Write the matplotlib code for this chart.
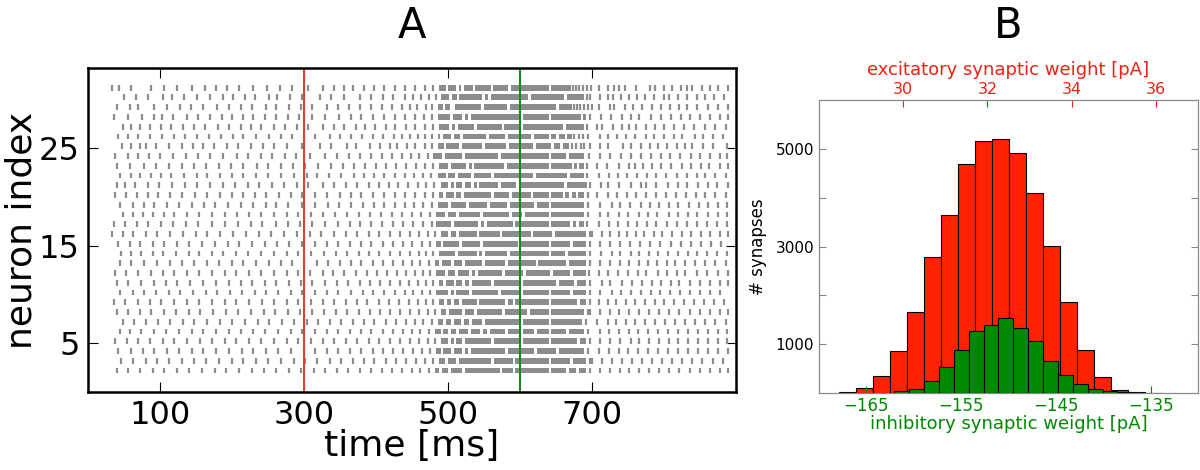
import matplotlib.pyplot as plt
import numpy as np

# Panel A: raster, neuron index 31 down to 2
neuron_ids = list(range(31, 1, -1))

# sparse spikes before the stimulus burst [ms]
pre_spikes = [
    [34, 43, 60, 88, 105, 124, 145, 162, 178, 193, 210, 230, 249, 267, 284, 306, 327, 342, 356, 369, 383, 397, 412, 426, 441, 454, 468, 479],
    [50, 67, 84, 104, 117, 133, 151, 170, 187, 201, 218, 232, 251, 263, 281, 298, 322, 338, 356, 378, 393, 410, 424, 440, 452, 463, 474, 484],
    [40, 58, 70, 92, 110, 128, 143, 160, 180, 196, 213, 228, 247, 262, 279, 296, 312, 332, 347, 363, 378, 393, 409, 423, 436, 448, 457, 470, 478],
    [36, 55, 75, 92, 103, 118, 138, 153, 170, 186, 200, 215, 229, 246, 262, 278, 293, 311, 330, 349, 366, 380, 396, 411, 426, 441, 455, 467, 478],
    [48, 60, 73, 86, 101, 116, 132, 148, 163, 181, 196, 213, 227, 240, 258, 274, 290, 306, 326, 342, 356, 372, 385, 399, 414, 427, 442, 455, 468, 479],
    [42, 55, 70, 86, 103, 120, 135, 152, 168, 185, 202, 216, 233, 251, 268, 284, 300, 316, 336, 350, 366, 381, 396, 410, 425, 437, 448, 458, 468, 478],
    [47, 60, 72, 80, 95, 112, 130, 146, 160, 175, 193, 209, 226, 243, 259, 277, 298, 322, 338, 360, 373, 392, 406, 420, 430, 443, 455, 468, 478],
    [38, 55, 70, 85, 100, 118, 136, 153, 169, 187, 207, 223, 240, 256, 274, 289, 308, 330, 346, 363, 378, 394, 408, 422, 437, 449, 460, 472],
    [41, 58, 78, 95, 113, 130, 147, 164, 182, 199, 216, 235, 250, 268, 285, 302, 320, 338, 354, 370, 385, 400, 414, 428, 442, 456, 468, 480],
    [45, 60, 72, 88, 102, 116, 133, 151, 166, 183, 200, 216, 234, 250, 268, 286, 304, 318, 335, 352, 370, 384, 398, 412, 426, 440, 453, 466, 477],
    [40, 52, 66, 84, 99, 117, 135, 152, 170, 188, 204, 222, 238, 256, 272, 290, 306, 326, 342, 358, 374, 390, 404, 418, 431, 445, 458, 470, 481],
    [38, 53, 68, 83, 97, 114, 130, 149, 165, 183, 200, 215, 232, 248, 266, 282, 298, 316, 332, 350, 366, 380, 396, 412, 426, 441, 455, 468, 480],
    [44, 62, 78, 92, 110, 126, 144, 161, 177, 195, 212, 230, 247, 262, 278, 297, 315, 334, 349, 366, 382, 397, 411, 426, 440, 453, 466, 478],
    [48, 63, 76, 90, 106, 120, 137, 155, 172, 190, 207, 224, 241, 258, 276, 292, 310, 326, 343, 360, 376, 392, 407, 422, 436, 450, 463, 476],
    [36, 52, 68, 84, 102, 118, 136, 153, 172, 190, 208, 226, 242, 261, 278, 294, 312, 330, 348, 364, 378, 394, 408, 424, 438, 452, 466, 478],
    [33, 48, 62, 80, 96, 114, 132, 150, 166, 184, 202, 220, 238, 254, 272, 290, 308, 324, 342, 358, 374, 390, 404, 420, 434, 448, 460, 472, 482],
    [42, 58, 72, 90, 105, 124, 140, 158, 176, 194, 210, 228, 246, 263, 280, 298, 316, 332, 348, 364, 380, 394, 410, 424, 438, 451, 464, 476],
    [46, 60, 74, 90, 104, 122, 140, 154, 172, 188, 206, 222, 240, 258, 276, 292, 310, 328, 344, 360, 376, 390, 405, 420, 434, 448, 460, 470, 480],
    [44, 60, 78, 96, 114, 130, 148, 166, 182, 200, 216, 234, 252, 268, 284, 300, 318, 334, 350, 366, 380, 396, 410, 424, 438, 450, 462, 474],
    [38, 53, 70, 88, 104, 120, 138, 155, 172, 190, 206, 224, 240, 258, 276, 292, 308, 326, 340, 356, 372, 388, 402, 416, 430, 442, 454, 466, 476],
    [40, 56, 74, 92, 108, 124, 142, 160, 178, 196, 212, 228, 246, 262, 280, 296, 312, 330, 346, 362, 378, 392, 406, 420, 434, 446, 458, 470, 480],
    [45, 62, 78, 94, 112, 128, 146, 164, 180, 198, 214, 232, 248, 264, 282, 298, 316, 332, 348, 366, 382, 396, 412, 426, 440, 452, 464, 476],
    [36, 52, 70, 86, 102, 120, 138, 154, 172, 190, 206, 224, 242, 258, 276, 292, 310, 326, 342, 358, 374, 388, 404, 418, 432, 446, 458, 470, 480],
    [40, 56, 72, 88, 106, 122, 140, 156, 174, 192, 208, 226, 244, 260, 278, 294, 312, 328, 344, 360, 376, 392, 406, 420, 434, 448, 460, 472, 482],
    [48, 64, 80, 98, 114, 132, 148, 166, 184, 200, 218, 236, 252, 270, 286, 304, 320, 336, 352, 368, 384, 398, 414, 428, 442, 454, 466, 478],
    [44, 58, 74, 92, 108, 126, 144, 160, 178, 196, 212, 230, 246, 264, 282, 298, 316, 332, 348, 364, 380, 394, 410, 424, 438, 450, 462, 474],
    [38, 54, 70, 86, 104, 120, 138, 156, 172, 190, 206, 224, 240, 258, 276, 292, 310, 326, 342, 358, 374, 390, 404, 420, 434, 448, 460, 472, 482],
    [42, 60, 76, 92, 110, 126, 144, 160, 178, 196, 214, 230, 248, 264, 282, 300, 316, 332, 348, 364, 380, 396, 410, 424, 438, 452, 464, 476],
    [46, 62, 80, 96, 112, 130, 148, 164, 182, 200, 216, 234, 250, 268, 286, 302, 318, 336, 352, 368, 384, 398, 414, 428, 442, 456, 468, 480],
    [40, 56, 72, 90, 106, 124, 140, 158, 176, 192, 210, 228, 244, 262, 280, 296, 314, 330, 346, 362, 378, 394, 408, 422, 436, 450, 462, 474],
]

# merged high-rate firing during the burst, (start, end) in ms
burst_blocks = [
    [(488, 497), (500, 512), (515, 519), (522, 535), (538, 560), (563, 584), (588, 640), (644, 671)],
    [(490, 502), (506, 513), (516, 548), (552, 556), (560, 612), (616, 662), (666, 690)],
    [(486, 493), (496, 503), (510, 546), (550, 583), (587, 651), (654, 672)],
    [(486, 503), (507, 520), (524, 528), (532, 600), (604, 640), (643, 685), (688, 692)],
    [(488, 502), (506, 510), (514, 537), (541, 575), (578, 600), (604, 660), (664, 690)],
    [(486, 489), (493, 504), (508, 517), (521, 553), (557, 580), (584, 616), (620, 640), (643, 650), (654, 663), (666, 672)],
    [(486, 495), (498, 516), (520, 548), (552, 581), (585, 618), (622, 644), (648, 656), (660, 668)],
    [(480, 492), (496, 520), (524, 570), (574, 640), (644, 664), (668, 690)],
    [(488, 500), (504, 526), (530, 533), (537, 578), (582, 640), (644, 672), (676, 680), (683, 690)],
    [(486, 497), (501, 510), (514, 532), (536, 560), (564, 618), (622, 666), (670, 690)],
    [(490, 500), (504, 508), (512, 520), (524, 532), (536, 540), (544, 570), (574, 595), (600, 662), (666, 693)],
    [(488, 493), (497, 508), (512, 518), (522, 560), (564, 585), (589, 615), (619, 640), (644, 660), (663, 668), (672, 678), (681, 690)],
    [(486, 500), (504, 525), (530, 555), (559, 582), (586, 620), (624, 640), (644, 690)],
    [(484, 496), (500, 512), (516, 545), (549, 585), (589, 603), (607, 640), (644, 690)],
    [(484, 505), (509, 542), (546, 551), (555, 590), (594, 640), (644, 670), (674, 678), (682, 690)],
    [(490, 500), (504, 512), (516, 540), (544, 572), (576, 615), (619, 645), (649, 692)],
    [(484, 490), (494, 515), (520, 545), (549, 598), (602, 640), (644, 670), (674, 692)],
    [(488, 510), (514, 540), (544, 548), (552, 582), (586, 640), (644, 663), (667, 692)],
    [(482, 488), (492, 505), (509, 520), (524, 548), (552, 580), (584, 622), (626, 664), (668, 692)],
    [(484, 496), (500, 510), (514, 530), (534, 538), (542, 575), (579, 605), (609, 642), (646, 670), (674, 692)],
    [(488, 494), (498, 508), (512, 520), (524, 530), (534, 560), (564, 600), (604, 650), (654, 675), (679, 692)],
    [(484, 500), (504, 508), (512, 530), (534, 570), (574, 600), (604, 640), (644, 670), (674, 692)],
    [(488, 495), (499, 505), (509, 516), (520, 540), (544, 580), (584, 590), (594, 640), (644, 680), (684, 692)],
    [(490, 498), (502, 520), (524, 536), (540, 575), (579, 610), (614, 640), (644, 690)],
    [(486, 494), (498, 505), (509, 518), (522, 530), (534, 548), (552, 600), (604, 640), (644, 686)],
    [(482, 490), (494, 500), (504, 512), (516, 528), (532, 545), (549, 555), (559, 580), (584, 600), (604, 620), (624, 640), (644, 664), (668, 690)],
    [(490, 500), (504, 508), (512, 520), (524, 560), (564, 600), (604, 640), (644, 680), (684, 692)],
    [(484, 490), (494, 504), (508, 520), (524, 528), (532, 580), (584, 620), (624, 650), (654, 690)],
    [(488, 496), (500, 512), (516, 560), (564, 590), (594, 640), (644, 670), (674, 692)],
    [(482, 488), (492, 500), (504, 520), (524, 572), (576, 590), (594, 640), (644, 664), (668, 678), (682, 692)],
]

# sparse spikes after the burst [ms]
post_spikes = [
    [674, 678, 683, 688, 693, 699, 710, 722, 731, 738, 746, 761, 781, 788, 800, 811, 824, 832, 839, 853, 865, 876, 889],
    [693, 698, 712, 723, 729, 741, 752, 763, 774, 787, 801, 808, 820, 833, 846, 858, 870, 884],
    [675, 680, 684, 690, 695, 700, 710, 725, 731, 746, 757, 770, 784, 797, 809, 822, 833, 847, 862, 876, 889],
    [697, 713, 727, 742, 754, 766, 782, 796, 810, 824, 837, 851, 864, 878, 890],
    [694, 708, 714, 729, 742, 752, 761, 776, 788, 801, 815, 828, 842, 857, 871, 886],
    [676, 682, 688, 695, 712, 722, 735, 748, 760, 775, 787, 800, 814, 826, 843, 855, 868, 882],
    [673, 678, 685, 690, 697, 712, 723, 743, 754, 768, 781, 792, 804, 818, 829, 840, 855, 868, 888],
    [696, 712, 726, 741, 755, 768, 782, 796, 809, 823, 838, 851, 865, 879, 888],
    [694, 708, 721, 738, 752, 760, 771, 784, 796, 810, 826, 838, 852, 863, 878, 889],
    [694, 710, 724, 737, 749, 763, 777, 790, 803, 818, 832, 846, 858, 872, 886],
    [698, 713, 722, 738, 754, 768, 776, 790, 806, 820, 833, 848, 862, 874, 889],
    [695, 708, 722, 735, 749, 762, 776, 790, 803, 817, 831, 845, 858, 872, 886],
    [695, 712, 728, 740, 753, 768, 781, 793, 807, 820, 835, 849, 862, 876, 888],
    [695, 711, 723, 738, 751, 766, 778, 791, 807, 820, 834, 847, 862, 875, 888],
    [694, 710, 724, 737, 750, 763, 777, 790, 804, 818, 832, 846, 860, 874, 888],
    [697, 701, 714, 726, 738, 749, 762, 773, 786, 798, 812, 826, 838, 852, 864, 878, 890],
    [697, 712, 725, 739, 753, 767, 781, 795, 810, 824, 838, 852, 866, 880],
    [697, 713, 728, 740, 754, 766, 780, 792, 806, 820, 834, 846, 860, 874, 888],
    [697, 712, 726, 740, 752, 766, 778, 791, 804, 816, 830, 844, 858, 872, 886],
    [696, 710, 722, 736, 750, 764, 776, 792, 804, 818, 830, 846, 860, 876, 889],
    [697, 714, 726, 742, 756, 770, 784, 796, 810, 822, 836, 850, 864, 878, 890],
    [697, 712, 728, 741, 755, 769, 783, 795, 809, 823, 837, 851, 865, 879],
    [697, 710, 722, 734, 748, 760, 774, 788, 800, 814, 828, 842, 856, 870, 884],
    [695, 698, 712, 726, 738, 752, 766, 780, 794, 808, 822, 836, 850, 864, 878, 890],
    [692, 708, 722, 734, 748, 760, 774, 788, 802, 816, 830, 844, 858, 872, 886],
    [695, 712, 724, 738, 752, 764, 778, 792, 806, 820, 834, 848, 862, 876, 888],
    [697, 712, 726, 740, 754, 766, 780, 794, 808, 820, 834, 848, 862, 876, 888],
    [695, 710, 724, 738, 750, 764, 778, 792, 806, 820, 834, 848, 862, 876, 890],
    [697, 700, 714, 728, 742, 756, 770, 784, 798, 812, 826, 840, 854, 868, 882],
    [697, 712, 726, 740, 752, 766, 780, 794, 808, 822, 836, 850, 864, 878, 890],
]

stim_on = 300
stim_off = 600

# Panel B: weight histograms
exc_first_edge = 28.48
exc_bin_width = 0.4035
exc_counts = [20, 110, 350, 860, 1650, 2790, 3650, 4690, 5160, 5210, 4925, 4090, 3020, 1860, 880, 320, 70, 20, 5]

inh_first_edge = -162.05
inh_bin_width = 1.57
inh_counts = [35, 90, 250, 540, 880, 1260, 1400, 1530, 1330, 1055, 660, 370, 180, 75, 35, 10]

spike_gray = '#8c8c8c'
exc_red = '#ff2200'
inh_green = '#008800'
text_red = '#ee2211'

fig = plt.figure(figsize=(12, 4.7), dpi=100)

# ---- A ----
axA = fig.add_axes([0.0733, 0.166, 0.5397, 0.689])
for nid, pre, blocks, post in zip(neuron_ids, pre_spikes, burst_blocks, post_spikes):
    times = pre + post
    axA.vlines(times, nid - 0.1, nid + 0.5, color=spike_gray, lw=1.6)
    axA.broken_barh([(s, e - s) for s, e in blocks], (nid - 0.1, 0.6),
                    facecolor=spike_gray, edgecolor='none')

axA.axvline(stim_on, color='#e04030', lw=1.5)
axA.axvline(stim_off, color='#10901a', lw=1.5)
axA.set_xlim(0, 900)
axA.set_ylim(0, 33.2)
axA.set_xticks([100, 300, 500, 700])
axA.set_yticks([5, 15, 25])
axA.tick_params(direction='in', top=True, right=True, labelsize=23, length=7, pad=6)
for sp in axA.spines.values():
    sp.set_linewidth(1.8)
axA.set_xlabel('time [ms]', fontsize=26, labelpad=-2)
axA.set_ylabel('neuron index', fontsize=26, labelpad=0)
fig.text(0.3433, 0.945, 'A', fontsize=30, ha='center', va='center')

# ---- B ----
axB = fig.add_axes([0.6825, 0.164, 0.3158, 0.623])
axB2 = axB.twiny()

exc_edges = exc_first_edge + exc_bin_width * np.arange(len(exc_counts))
axB.bar(exc_edges, exc_counts, width=exc_bin_width, align='edge',
        color=exc_red, edgecolor='black', lw=0.8)
axB.set_xlim(28, 37)
axB.set_ylim(0, 6000)
axB.set_xticks([30, 32, 34, 36])
axB.set_yticks([1000, 2000, 3000, 4000, 5000])
axB.set_yticklabels(['1000', '', '3000', '', '5000'])
axB.xaxis.tick_top()
axB.xaxis.set_label_position('top')
axB.tick_params(axis='x', direction='in', colors=text_red, labelsize=11.5, length=5, pad=2)
axB.tick_params(axis='y', direction='in', left=True, right=True, labelsize=11,
                length=5, color='#888888')
axB.set_xlabel('excitatory synaptic weight [pA]', color=text_red, fontsize=13, labelpad=5)
axB.set_ylabel('# synapses', fontsize=12, labelpad=6)

inh_edges = inh_first_edge + inh_bin_width * np.arange(len(inh_counts))
axB2.bar(inh_edges, inh_counts, width=inh_bin_width, align='edge',
         color=inh_green, edgecolor='black', lw=0.8)
axB2.set_xlim(-170, -130)
axB2.set_xticks([-165, -155, -145, -135])
axB2.xaxis.tick_bottom()
axB2.xaxis.set_label_position('bottom')
axB2.tick_params(axis='x', direction='in', colors=inh_green, labelsize=12, length=5, pad=3)
axB2.set_xlabel('inhibitory synaptic weight [pA]', color=inh_green, fontsize=13, labelpad=0)

for ax in (axB, axB2):
    for sp in ax.spines.values():
        sp.set_color('#888888')
fig.text(0.84, 0.945, 'B', fontsize=30, ha='center', va='center')

fig.savefig('out.png', dpi=100)
